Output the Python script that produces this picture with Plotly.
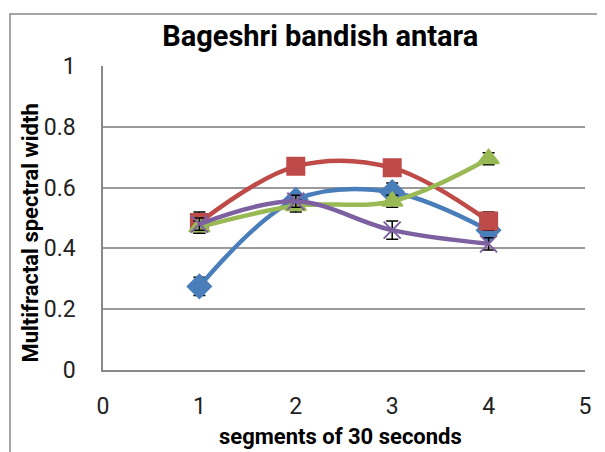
import plotly.graph_objects as go

segments = [1, 2, 3, 4]
series_names = ["Series1", "Series2", "Series3", "Series4"]
blue_vals = [0.275, 0.56, 0.585, 0.46]
red_vals = [0.485, 0.67, 0.665, 0.49]
green_vals = [0.47, 0.54, 0.555, 0.695]
purple_vals = [0.48, 0.555, 0.46, 0.415]
blue_err = [0.03, 0.02, 0.03, 0.02]
red_err = [0.035, 0.02, 0.025, 0.03]
green_err = [0.02, 0.02, 0.02, 0.02]
purple_err = [0.02, 0.02, 0.03, 0.02]
x_ticks = [0, 1, 2, 3, 4, 5]
y_ticks = [0, 0.2, 0.4, 0.6, 0.8, 1]

FONT = "Roboto, sans-serif"

fig = go.Figure()
specs = [
    (blue_vals, blue_err, "#4A7EBB", "diamond", 18),
    (red_vals, red_err, "#BE4B48", "square", 17),
    (green_vals, green_err, "#98B954", "triangle-up", 18),
    (purple_vals, purple_err, "#7D60A0", "x-thin", 17),
]
for name, (vals, err, col, sym, size) in zip(series_names, specs):
    fig.add_trace(go.Scatter(
        x=segments, y=vals, name=name, mode="lines+markers",
        line=dict(color=col, width=4.5, shape="spline", smoothing=1.0),
        marker=dict(symbol=sym, size=size, color=col,
                    line=dict(color=col, width=2)),
        error_y=dict(type="data", array=err, visible=True, color="black",
                     thickness=1.5, width=6),
        showlegend=False,
    ))

fig.update_layout(
    width=605, height=452,
    margin=dict(l=95, r=28, t=58, b=90),
    paper_bgcolor="white", plot_bgcolor="white",
    title=dict(text="<b>Bageshri bandish antara</b>", x=0.516, xanchor="center",
               y=0.938, yanchor="middle",
               font=dict(family=FONT, size=29, color="black")),
    font=dict(family=FONT, color="black"),
    xaxis=dict(range=[0, 5], tickvals=x_ticks, showgrid=False,
               showline=True, linecolor="#888888", linewidth=1.5,
               ticks="", tickfont=dict(size=23, color="#222"),
               ticklabelstandoff=15,
               zeroline=False),
    yaxis=dict(range=[0, 1], tickvals=y_ticks, tickformat="~g",
               showgrid=True, gridcolor="#9a9a9a", gridwidth=1.5,
               showline=True, linecolor="#888888", linewidth=1.5,
               ticks="", tickfont=dict(size=23, color="#222"),
               ticklabelstandoff=21,
               zeroline=False),
    annotations=[
        dict(text="<b>segments of 30 seconds</b>", xref="paper", yref="paper",
             x=0.492, y=-0.220, xanchor="center", yanchor="middle",
             showarrow=False, font=dict(family=FONT, size=22, color="black")),
        dict(text="<b>Multifractal spectral width</b>", xref="paper", yref="paper",
             x=-0.150, y=0.451, xanchor="center", yanchor="middle", textangle=-90,
             showarrow=False, font=dict(family=FONT, size=22, color="black")),
    ],
    shapes=[dict(type="rect", xref="paper", yref="paper",
                 x0=-0.193, x1=1.2, y0=-0.4, y1=1.171,
                 line=dict(color="#888888", width=1.5), layer="below")],
)

fig.write_html("out.html")
